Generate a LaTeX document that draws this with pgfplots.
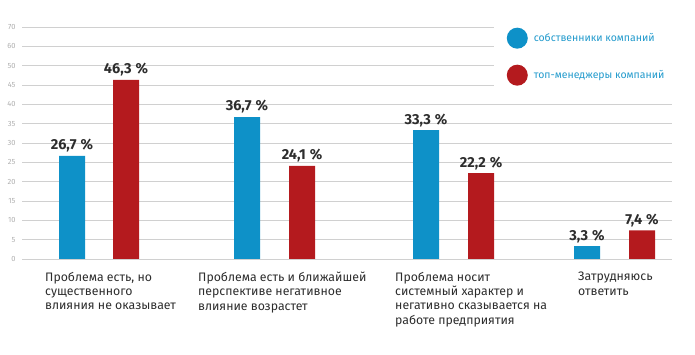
\documentclass[border=0pt]{standalone}
\usepackage{fontspec}
\setmainfont{Fira Sans}
\usepackage{pgfplots}
\pgfplotsset{compat=1.18}
\definecolor{cblue}{RGB}{14,145,200}
\definecolor{cred}{RGB}{180,26,30}
\definecolor{ctext}{RGB}{45,45,45}
\definecolor{cgrid}{RGB}{208,208,208}
\definecolor{clab}{RGB}{175,175,175}
\definecolor{cleg}{RGB}{35,155,205}
\begin{document}
\begin{tikzpicture}[x=1pt,y=1pt]
\path[use as bounding box] (0,0) rectangle (695,355);
\begin{axis}[at={(22pt,96pt)}, anchor=south west, scale only axis,
  width=650pt, height=232pt,
  xmin=22, xmax=672, ymin=0, ymax=60, clip=false,
  axis line style={draw=none}, xtick=\empty,
  ytick={0,5,...,60},
  yticklabels={0,5,10,15,20,25,30,35,40,45,50,60,70},
  yticklabel style={font=\fontsize{7.5}{8}\selectfont, color=clab, xshift=-3pt},
  ymajorgrids=true, major grid style={draw=cgrid, line width=0.8pt},
  tick style={draw=none},
  legend style={at={(0.7455,0.998)}, anchor=north west, draw=none, fill=none,
    inner sep=0pt, row sep=16pt, column sep=4pt, font=\fontsize{10.5}{12}\selectfont, text=cleg,
    cells={anchor=west}},
  nodes near coords style={font=\bfseries\fontsize{14.5}{15}\selectfont, text=ctext},
]
\addplot[ybar, bar width=26pt, bar shift=0pt, fill=cblue, draw=none,
  point meta=explicit symbolic, nodes near coords,
  legend image code/.code={\fill[cblue] (10.5pt,0pt) circle (10.5pt);}]
  coordinates {(72,26.7) [26,7\kern4pt\%] (247,36.7) [36,7\kern4pt\%] (426,33.3) [33,3\kern4pt\%] (587,3.3) [3,3\kern4pt\%]};
\addlegendentry{собственники компаний}
\addplot[ybar, bar width=26pt, bar shift=0pt, fill=cred, draw=none,
  point meta=explicit symbolic, nodes near coords,
  legend image code/.code={\fill[cred] (10.5pt,0pt) circle (10.5pt);}]
  coordinates {(126,46.3) [46,3\kern4pt\%] (302,24.1) [24,1\kern4pt\%] (481,22.2) [22,2\kern4pt\%] (642,7.4) [7,4\kern4pt\%]};
\addlegendentry{топ-менеджеры компаний}
\fill[white] (axis cs:494,43.8) rectangle (axis cs:700,68);
\tikzset{cat/.style={anchor=north west, inner sep=0pt, align=left, text=ctext,
  font=\fontsize{12.3}{14.2}\selectfont, yshift=-13pt}}
\node[cat] at (axis cs:45,0) {Проблема есть, но\\существенного\\влияния не оказывает};
\node[cat] at (axis cs:198,0) {Проблема есть и ближайшей\\перспективе негативное\\влияние возрастет};
\node[cat] at (axis cs:395,0) {Проблема носит\\системный характер и\\негативно сказывается на\\работе предприятия};
\node[cat] at (axis cs:578,0) {Затрудняюсь\\ответить};
\end{axis}
\end{tikzpicture}
\end{document}
